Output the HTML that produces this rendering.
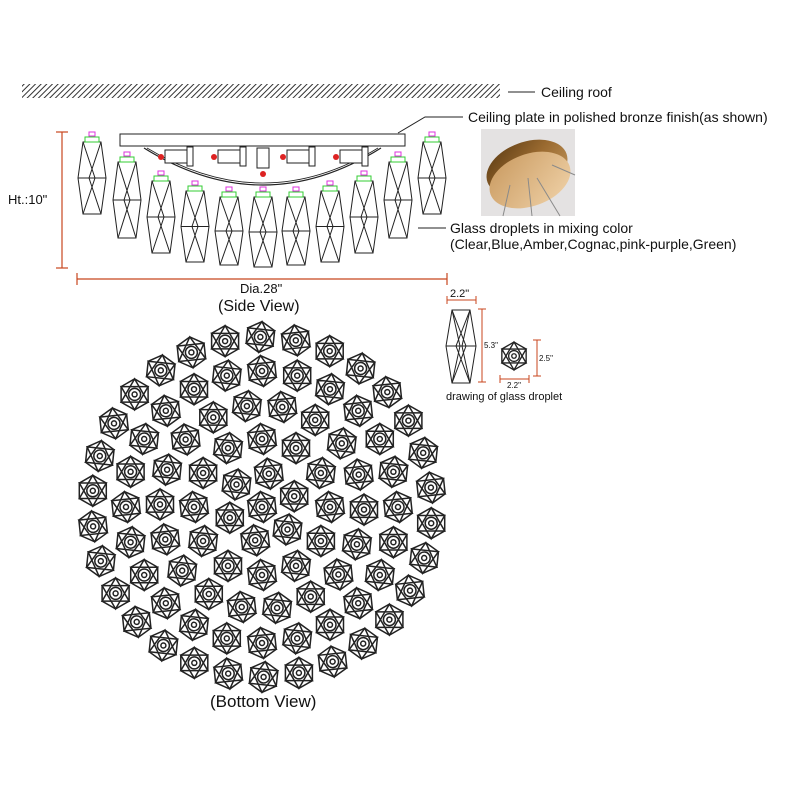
<!DOCTYPE html>
<html><head><meta charset="utf-8">
<style>
html,body{margin:0;padding:0;background:#fff;}
svg{display:block;}
text{font-family:"Liberation Sans",sans-serif;fill:#111;}
</style></head>
<body>
<svg id="s" width="800" height="800" viewBox="0 0 800 800" xmlns="http://www.w3.org/2000/svg">
<defs>
<pattern id="hatch" width="4" height="4" patternUnits="userSpaceOnUse" patternTransform="rotate(45)">
<rect width="4" height="4" fill="#fff"/><line x1="0" y1="0" x2="0" y2="4" stroke="#333" stroke-width="2"/>
</pattern>
<linearGradient id="bz" x1="0" y1="0" x2="1" y2="1">
<stop offset="0" stop-color="#5a3a12"/><stop offset="0.5" stop-color="#9a6a30"/><stop offset="1" stop-color="#c49a60"/>
</linearGradient>
<linearGradient id="bf" x1="0" y1="0" x2="1" y2="1">
<stop offset="0" stop-color="#c99a60"/><stop offset="1" stop-color="#f0d2a8"/>
</linearGradient>
<g id="ic" fill="none" stroke="#222" stroke-width="1.5">
<polygon points="0,-15.5 13.5,-7.75 13.5,7.75 0,15.5 -13.5,7.75 -13.5,-7.75"/>
<polygon points="0,-15.5 13.5,7.75 -13.5,7.75"/>
<polygon points="0,15.5 13.5,-7.75 -13.5,-7.75"/>
<circle r="6"/><circle r="2.5"/>
</g>
</defs>
<rect x="22" y="84" width="478" height="14" fill="url(#hatch)"/>
<line x1="508" y1="92" x2="535" y2="92" stroke="#222"/>
<text x="541" y="97" font-size="14">Ceiling roof</text>
<polyline points="398,133 425,117 463,117" fill="none" stroke="#222"/>
<text x="468" y="122" font-size="14">Ceiling plate in polished bronze finish(as shown)</text>
<line x1="418" y1="228" x2="446" y2="228" stroke="#222"/>
<text x="450" y="233" font-size="14">Glass droplets in mixing color</text>
<text x="450" y="249" font-size="14">(Clear,Blue,Amber,Cognac,pink-purple,Green)</text>
<rect x="481" y="129" width="94" height="87" fill="#e4e2e2"/>
<ellipse cx="527" cy="168" rx="42" ry="26" fill="url(#bz)" transform="rotate(-20 527 168)"/>
<ellipse cx="530" cy="180" rx="42" ry="26" fill="url(#bf)" transform="rotate(-20 530 180)"/>
<path d="M510 185 L503 216 M528 178 L532 216 M537 178 L560 216 M552 165 L575 175" stroke="#8a8a8a" stroke-width="1"/>
<g stroke="#c8461e" stroke-width="1.2" fill="none">
<line x1="62" y1="132" x2="62" y2="268"/><line x1="56" y1="132" x2="68" y2="132"/><line x1="56" y1="268" x2="68" y2="268"/>
<line x1="77" y1="279" x2="447" y2="279"/><line x1="77" y1="273" x2="77" y2="285"/><line x1="447" y1="273" x2="447" y2="285"/>
</g>
<text x="8" y="204" font-size="13">Ht.:10"</text>
<text x="240" y="293" font-size="13">Dia.28"</text>
<text x="218" y="311" font-size="16">(Side View)</text>
<text x="210" y="707" font-size="17">(Bottom View)</text>
<rect x="120" y="134" width="285" height="12" fill="#fff" stroke="#222"/>
<path d="M144 148 Q263 222 381 148" fill="none" stroke="#222" stroke-width="1.2"/>
<path d="M147 148 Q263 218 378 148" fill="none" stroke="#222" stroke-width="0.8"/>
<g id="side"></g>
<g fill="none" stroke="#222" stroke-width="1">
<polygon points="452,310 470,310 476,346 470,383 452,383 446,346"/>
<polyline points="452,310 460,346 452,383"/><polyline points="470,310 462,346 470,383"/>
<polyline points="452,310 466,346 452,383"/><polyline points="470,310 456,346 470,383"/>
<line x1="446" y1="346" x2="476" y2="346"/>
</g>
<g stroke="#c8461e" stroke-width="1" fill="none">
<line x1="447" y1="300" x2="476" y2="300"/><line x1="447" y1="296" x2="447" y2="304"/><line x1="476" y1="296" x2="476" y2="304"/>
<line x1="482" y1="309" x2="482" y2="382"/><line x1="478" y1="309" x2="486" y2="309"/><line x1="478" y1="382" x2="486" y2="382"/>
<line x1="537" y1="340" x2="537" y2="376"/><line x1="533" y1="340" x2="541" y2="340"/><line x1="533" y1="376" x2="541" y2="376"/>
<line x1="500" y1="379" x2="529" y2="379"/><line x1="500" y1="375" x2="500" y2="383"/><line x1="529" y1="375" x2="529" y2="383"/>
</g>
<text x="450" y="297" font-size="11">2.2"</text>
<text x="484" y="348" font-size="8">5.3"</text>
<text x="539" y="361" font-size="8">2.5"</text>
<text x="507" y="388" font-size="8">2.2"</text>
<text x="446" y="400" font-size="11">drawing of glass droplet</text>
<use href="#ic" transform="translate(514,356) scale(0.9)"/>
<g id="bot"></g>
</svg>
<script>
var NS="http://www.w3.org/2000/svg";
function el(p,t,a){var e=document.createElementNS(NS,t);for(var k in a)e.setAttribute(k,a[k]);p.appendChild(e);return e;}
var side=document.getElementById('side');
var d=[[92,142,214],[127,162,238],[161,181,253],[195,191,262],[229,197,265],[263,197,267],[296,197,265],[330,191,262],[364,181,253],[398,162,238],[432,142,214]];
d.forEach(function(a){var x=a[0],t=a[1],b=a[2],m=(t+b)/2,w=12;
var g=el(side,'g',{fill:'none',stroke:'#222','stroke-width':'1'});
el(g,'polygon',{points:(x-9)+','+t+' '+(x+9)+','+t+' '+(x+w+2)+','+m+' '+(x+9)+','+b+' '+(x-9)+','+b+' '+(x-w-2)+','+m});
el(g,'polyline',{points:(x-9)+','+t+' '+(x+3)+','+m+' '+(x-9)+','+b});
el(g,'polyline',{points:(x+9)+','+t+' '+(x-3)+','+m+' '+(x+9)+','+b});
el(g,'line',{x1:x-w-2,y1:m,x2:x+w+2,y2:m});
el(side,'rect',{x:x-7,y:t-5,width:14,height:5,fill:'#fff',stroke:'#3c3','stroke-width':'1'});
el(side,'rect',{x:x-3,y:t-10,width:6,height:4,fill:'#fff',stroke:'#d3d','stroke-width':'1'});
});
[[175,157],[228,157],[297,157],[350,157]].forEach(function(p){
var g=el(side,'g',{fill:'#fff',stroke:'#222','stroke-width':'1'});
el(g,'rect',{x:p[0]-10,y:p[1]-7,width:22,height:13});
el(g,'rect',{x:p[0]+12,y:p[1]-10,width:6,height:19});
el(side,'circle',{cx:p[0]-14,cy:p[1],r:3,fill:'#d22'});
});
el(side,'rect',{x:257,y:148,width:12,height:20,fill:'#fff',stroke:'#222'});
el(side,'circle',{cx:263,cy:174,r:3,fill:'#d22'});
var bot=document.getElementById('bot');
var cx=262,cy=507;
for(var k=0;k<=5;k++){var n=k==0?1:6*k,r=34*k;
for(var i=0;i<n;i++){var a=-Math.PI/2+2*Math.PI*i/n+(k%2?0.2:0);
el(bot,'use',{href:'#ic',transform:'translate('+(cx+r*Math.cos(a)).toFixed(1)+','+(cy+r*Math.sin(a)).toFixed(1)+') rotate('+(((i*7)%3)*6-6)+')'});}}
</script>
</body></html>
